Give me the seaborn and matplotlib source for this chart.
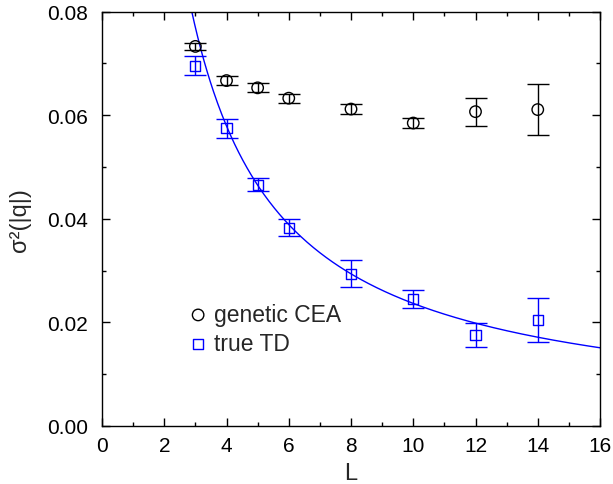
import numpy as np
import pandas as pd
import matplotlib
matplotlib.use("Agg")
import matplotlib.pyplot as plt
import seaborn as sns
from matplotlib.ticker import MultipleLocator

# ---- data ----
L_cea = [3, 4, 5, 6, 8, 10, 12, 14]
sig_cea = [0.0733, 0.0667, 0.0653, 0.0633, 0.0612, 0.0585, 0.0607, 0.0611]
err_cea = [0.0007, 0.0008, 0.0009, 0.0009, 0.0009, 0.0010, 0.0027, 0.0049]

L_td = [3, 4, 5, 6, 8, 10, 12, 14]
sig_td = [0.0696, 0.0575, 0.0466, 0.0383, 0.0294, 0.0245, 0.0176, 0.0205]
err_td = [0.0018, 0.0018, 0.0013, 0.0016, 0.0026, 0.0017, 0.0023, 0.0043]

# fit curve a/L + c
fit_a = 0.2284
fit_c = 0.00083

sns.set_style("ticks")
plt.rcParams['font.family'] = ['Liberation Sans', 'DejaVu Sans']

fig = plt.figure(figsize=(6.13, 4.85), dpi=100)
ax = fig.add_axes([0.1664, 0.1196, 0.8124, 0.8542])

blue = "#0000ff"

# fit curve
Lf = np.linspace(2.5, 16, 400)
df_fit = pd.DataFrame({"L": Lf, "s": fit_a / Lf + fit_c})
sns.lineplot(data=df_fit, x="L", y="s", color=blue, lw=1.0, ax=ax, legend=False)

# error bars
ax.errorbar(L_cea, sig_cea, yerr=err_cea, fmt='none', ecolor='black',
            elinewidth=1.0, capsize=8, capthick=1.0, zorder=3)
ax.errorbar(L_td, sig_td, yerr=err_td, fmt='none', ecolor=blue,
            elinewidth=1.0, capsize=8, capthick=1.0, zorder=3)

df_cea = pd.DataFrame({"L": L_cea, "s": sig_cea})
df_td = pd.DataFrame({"L": L_td, "s": sig_td})
sns.scatterplot(data=df_cea, x="L", y="s", marker='o', s=68,
                facecolor='none', edgecolor='black', linewidth=1.0,
                ax=ax, label='genetic CEA', zorder=4)
sns.scatterplot(data=df_td, x="L", y="s", marker='s', s=52,
                facecolor='none', edgecolor=blue, linewidth=1.0,
                ax=ax, label='true TD', zorder=4)

ax.set_xlim(0, 16)
ax.set_ylim(0, 0.08)
ax.xaxis.set_major_locator(MultipleLocator(2))
ax.xaxis.set_minor_locator(MultipleLocator(1))
ax.yaxis.set_major_locator(MultipleLocator(0.02))
ax.yaxis.set_minor_locator(MultipleLocator(0.01))
ax.yaxis.set_major_formatter(matplotlib.ticker.FormatStrFormatter('%.2f'))

ax.tick_params(which='both', direction='in', top=True, right=True,
               colors='black', labelsize=15, width=1.0)
ax.tick_params(which='major', length=6)
ax.tick_params(which='minor', length=3)
ax.tick_params(axis='y', which='major', pad=10)
ax.tick_params(axis='x', which='major', pad=7)
for sp in ax.spines.values():
    sp.set_visible(True)
    sp.set_color('black')
    sp.set_linewidth(1.0)

ax.set_xlabel("L", fontsize=17, labelpad=5.5)
ax.set_ylabel("σ²(|q|)", fontsize=17, labelpad=11.5)

leg = ax.legend(loc='upper left', bbox_to_anchor=(0.170, 0.297), frameon=False,
                fontsize=16.5, handletextpad=0.2, labelspacing=0.25,
                handlelength=1.0, borderaxespad=0, borderpad=0)

fig.savefig("out.png", dpi=100)
